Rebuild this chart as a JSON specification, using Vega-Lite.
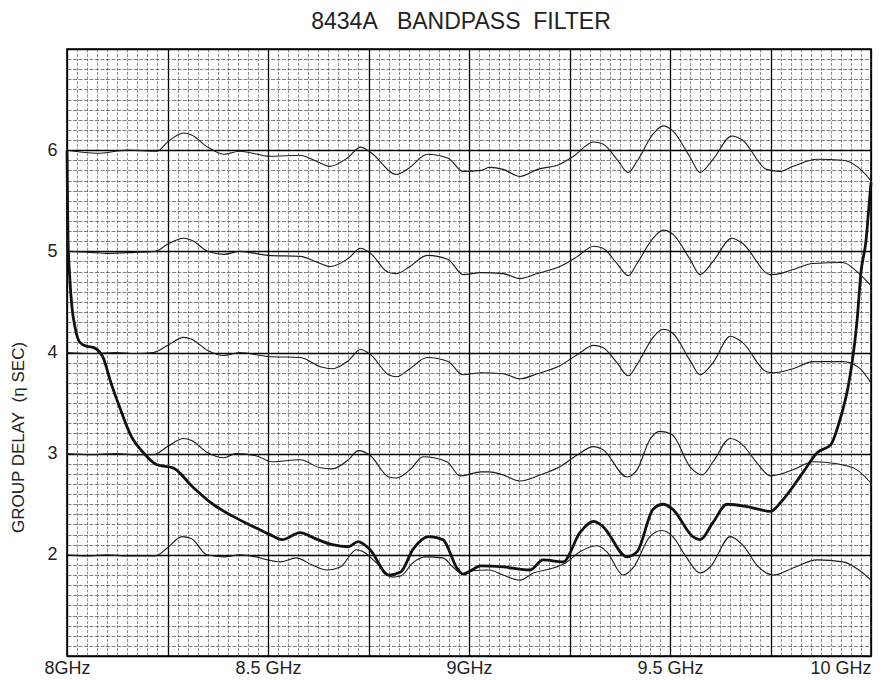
{
  "$schema": "https://vega.github.io/schema/vega-lite/v6.json",
  "width": 804,
  "height": 607,
  "autosize": {"type": "none"},
  "padding": {"left": 67, "top": 49, "right": 18, "bottom": 24},
  "background": "white",
  "config": {"view": {"stroke": "#000", "strokeWidth": 1.6}, "font": "Liberation Sans"},
  "title": {"text": "8434A\u00a0\u00a0\u00a0BANDPASS\u00a0\u00a0FILTER", "fontSize": 23, "fontWeight": "normal", "font": "Liberation Sans", "color": "#222", "offset": 18, "baseline": "bottom", "frame": "group", "anchor": "middle", "dx": -8, "dy": 35},
  "data": {"values": [
    {"s":"t2","f":8.0,"d":2.0},{"s":"t2","f":8.05,"d":1.99},{"s":"t2","f":8.1,"d":2.0},{"s":"t2","f":8.15,"d":1.99},{"s":"t2","f":8.22,"d":1.99},{"s":"t2","f":8.25,"d":2.07},{"s":"t2","f":8.286,"d":2.18},{"s":"t2","f":8.31,"d":2.16},{"s":"t2","f":8.348,"d":2.0},{"s":"t2","f":8.39,"d":1.98},{"s":"t2","f":8.43,"d":2.0},{"s":"t2","f":8.47,"d":1.98},{"s":"t2","f":8.5,"d":1.95},{"s":"t2","f":8.53,"d":1.93},{"s":"t2","f":8.57,"d":1.97},{"s":"t2","f":8.61,"d":1.9},{"s":"t2","f":8.647,"d":1.85},{"s":"t2","f":8.68,"d":1.88},{"s":"t2","f":8.72,"d":2.05},{"s":"t2","f":8.737,"d":2.03},{"s":"t2","f":8.77,"d":1.92},{"s":"t2","f":8.81,"d":1.78},{"s":"t2","f":8.83,"d":1.79},{"s":"t2","f":8.86,"d":1.92},{"s":"t2","f":8.89,"d":1.98},{"s":"t2","f":8.935,"d":1.97},{"s":"t2","f":8.96,"d":1.88},{"s":"t2","f":8.985,"d":1.81},{"s":"t2","f":9.0,"d":1.84},{"s":"t2","f":9.05,"d":1.85},{"s":"t2","f":9.085,"d":1.8},{"s":"t2","f":9.127,"d":1.75},{"s":"t2","f":9.16,"d":1.82},{"s":"t2","f":9.21,"d":1.87},{"s":"t2","f":9.24,"d":1.92},{"s":"t2","f":9.276,"d":2.03},{"s":"t2","f":9.318,"d":2.09},{"s":"t2","f":9.343,"d":2.03},{"s":"t2","f":9.383,"d":1.8},{"s":"t2","f":9.408,"d":1.87},{"s":"t2","f":9.45,"d":2.18},{"s":"t2","f":9.48,"d":2.24},{"s":"t2","f":9.507,"d":2.18},{"s":"t2","f":9.54,"d":1.98},{"s":"t2","f":9.575,"d":1.82},{"s":"t2","f":9.6,"d":1.88},{"s":"t2","f":9.65,"d":2.18},{"s":"t2","f":9.68,"d":2.1},{"s":"t2","f":9.72,"d":1.88},{"s":"t2","f":9.757,"d":1.8},{"s":"t2","f":9.806,"d":1.87},{"s":"t2","f":9.866,"d":1.95},{"s":"t2","f":9.93,"d":1.93},{"s":"t2","f":9.97,"d":1.85},{"s":"t2","f":10.0,"d":1.75},

    {"s":"t3","f":8.0,"d":3.0},{"s":"t3","f":8.06,"d":2.99},{"s":"t3","f":8.12,"d":3.0},{"s":"t3","f":8.17,"d":2.99},{"s":"t3","f":8.215,"d":2.99},{"s":"t3","f":8.25,"d":3.07},{"s":"t3","f":8.29,"d":3.15},{"s":"t3","f":8.31,"d":3.13},{"s":"t3","f":8.35,"d":3.01},{"s":"t3","f":8.39,"d":2.96},{"s":"t3","f":8.42,"d":3.0},{"s":"t3","f":8.47,"d":2.98},{"s":"t3","f":8.51,"d":2.92},{"s":"t3","f":8.58,"d":2.94},{"s":"t3","f":8.63,"d":2.86},{"s":"t3","f":8.66,"d":2.85},{"s":"t3","f":8.7,"d":2.94},{"s":"t3","f":8.725,"d":3.03},{"s":"t3","f":8.755,"d":2.98},{"s":"t3","f":8.8,"d":2.77},{"s":"t3","f":8.82,"d":2.76},{"s":"t3","f":8.853,"d":2.84},{"s":"t3","f":8.886,"d":2.97},{"s":"t3","f":8.945,"d":2.92},{"s":"t3","f":8.978,"d":2.78},{"s":"t3","f":9.03,"d":2.82},{"s":"t3","f":9.05,"d":2.82},{"s":"t3","f":9.085,"d":2.79},{"s":"t3","f":9.127,"d":2.73},{"s":"t3","f":9.177,"d":2.79},{"s":"t3","f":9.226,"d":2.87},{"s":"t3","f":9.27,"d":2.99},{"s":"t3","f":9.31,"d":3.07},{"s":"t3","f":9.333,"d":3.04},{"s":"t3","f":9.393,"d":2.77},{"s":"t3","f":9.418,"d":2.84},{"s":"t3","f":9.45,"d":3.14},{"s":"t3","f":9.475,"d":3.22},{"s":"t3","f":9.505,"d":3.19},{"s":"t3","f":9.55,"d":2.87},{"s":"t3","f":9.58,"d":2.79},{"s":"t3","f":9.607,"d":2.92},{"s":"t3","f":9.65,"d":3.15},{"s":"t3","f":9.68,"d":3.09},{"s":"t3","f":9.716,"d":2.91},{"s":"t3","f":9.75,"d":2.78},{"s":"t3","f":9.806,"d":2.84},{"s":"t3","f":9.856,"d":2.92},{"s":"t3","f":9.915,"d":2.9},{"s":"t3","f":9.965,"d":2.84},{"s":"t3","f":10.0,"d":2.71},

    {"s":"t4","f":8.0,"d":4.0},{"s":"t4","f":8.06,"d":3.99},{"s":"t4","f":8.12,"d":4.0},{"s":"t4","f":8.17,"d":3.99},{"s":"t4","f":8.215,"d":4.0},{"s":"t4","f":8.25,"d":4.07},{"s":"t4","f":8.29,"d":4.15},{"s":"t4","f":8.31,"d":4.13},{"s":"t4","f":8.35,"d":4.02},{"s":"t4","f":8.39,"d":3.97},{"s":"t4","f":8.43,"d":4.0},{"s":"t4","f":8.5,"d":3.96},{"s":"t4","f":8.58,"d":3.95},{"s":"t4","f":8.63,"d":3.86},{"s":"t4","f":8.66,"d":3.84},{"s":"t4","f":8.7,"d":3.92},{"s":"t4","f":8.73,"d":4.03},{"s":"t4","f":8.755,"d":3.98},{"s":"t4","f":8.8,"d":3.78},{"s":"t4","f":8.82,"d":3.76},{"s":"t4","f":8.853,"d":3.84},{"s":"t4","f":8.896,"d":3.95},{"s":"t4","f":8.948,"d":3.91},{"s":"t4","f":8.985,"d":3.78},{"s":"t4","f":9.03,"d":3.8},{"s":"t4","f":9.085,"d":3.79},{"s":"t4","f":9.127,"d":3.74},{"s":"t4","f":9.17,"d":3.79},{"s":"t4","f":9.226,"d":3.87},{"s":"t4","f":9.27,"d":3.98},{"s":"t4","f":9.31,"d":4.07},{"s":"t4","f":9.333,"d":4.05},{"s":"t4","f":9.368,"d":3.9},{"s":"t4","f":9.396,"d":3.77},{"s":"t4","f":9.418,"d":3.88},{"s":"t4","f":9.458,"d":4.15},{"s":"t4","f":9.483,"d":4.23},{"s":"t4","f":9.507,"d":4.19},{"s":"t4","f":9.55,"d":3.92},{"s":"t4","f":9.575,"d":3.78},{"s":"t4","f":9.607,"d":3.9},{"s":"t4","f":9.65,"d":4.16},{"s":"t4","f":9.68,"d":4.1},{"s":"t4","f":9.74,"d":3.81},{"s":"t4","f":9.757,"d":3.8},{"s":"t4","f":9.806,"d":3.84},{"s":"t4","f":9.856,"d":3.91},{"s":"t4","f":9.93,"d":3.91},{"s":"t4","f":9.97,"d":3.85},{"s":"t4","f":10.0,"d":3.7},

    {"s":"t5","f":8.0,"d":5.0},{"s":"t5","f":8.06,"d":4.99},{"s":"t5","f":8.1,"d":4.98},{"s":"t5","f":8.17,"d":4.99},{"s":"t5","f":8.22,"d":5.0},{"s":"t5","f":8.25,"d":5.07},{"s":"t5","f":8.29,"d":5.13},{"s":"t5","f":8.31,"d":5.11},{"s":"t5","f":8.35,"d":5.0},{"s":"t5","f":8.39,"d":4.97},{"s":"t5","f":8.43,"d":5.0},{"s":"t5","f":8.5,"d":4.96},{"s":"t5","f":8.58,"d":4.95},{"s":"t5","f":8.63,"d":4.88},{"s":"t5","f":8.655,"d":4.85},{"s":"t5","f":8.7,"d":4.93},{"s":"t5","f":8.73,"d":5.03},{"s":"t5","f":8.755,"d":4.98},{"s":"t5","f":8.8,"d":4.79},{"s":"t5","f":8.82,"d":4.78},{"s":"t5","f":8.853,"d":4.85},{"s":"t5","f":8.896,"d":4.96},{"s":"t5","f":8.948,"d":4.92},{"s":"t5","f":8.985,"d":4.77},{"s":"t5","f":9.03,"d":4.79},{"s":"t5","f":9.085,"d":4.78},{"s":"t5","f":9.127,"d":4.73},{"s":"t5","f":9.17,"d":4.78},{"s":"t5","f":9.226,"d":4.85},{"s":"t5","f":9.27,"d":4.95},{"s":"t5","f":9.31,"d":5.05},{"s":"t5","f":9.333,"d":5.03},{"s":"t5","f":9.368,"d":4.88},{"s":"t5","f":9.396,"d":4.76},{"s":"t5","f":9.418,"d":4.88},{"s":"t5","f":9.458,"d":5.13},{"s":"t5","f":9.483,"d":5.21},{"s":"t5","f":9.507,"d":5.17},{"s":"t5","f":9.55,"d":4.92},{"s":"t5","f":9.575,"d":4.77},{"s":"t5","f":9.607,"d":4.9},{"s":"t5","f":9.654,"d":5.13},{"s":"t5","f":9.68,"d":5.08},{"s":"t5","f":9.75,"d":4.77},{"s":"t5","f":9.774,"d":4.78},{"s":"t5","f":9.806,"d":4.82},{"s":"t5","f":9.856,"d":4.88},{"s":"t5","f":9.93,"d":4.89},{"s":"t5","f":9.965,"d":4.8},{"s":"t5","f":10.0,"d":4.66},

    {"s":"t6","f":8.0,"d":6.0},{"s":"t6","f":8.075,"d":5.97},{"s":"t6","f":8.15,"d":6.0},{"s":"t6","f":8.224,"d":5.99},{"s":"t6","f":8.25,"d":6.08},{"s":"t6","f":8.29,"d":6.17},{"s":"t6","f":8.31,"d":6.15},{"s":"t6","f":8.35,"d":6.03},{"s":"t6","f":8.39,"d":5.96},{"s":"t6","f":8.43,"d":5.99},{"s":"t6","f":8.505,"d":5.94},{"s":"t6","f":8.58,"d":5.95},{"s":"t6","f":8.62,"d":5.89},{"s":"t6","f":8.654,"d":5.84},{"s":"t6","f":8.7,"d":5.93},{"s":"t6","f":8.73,"d":6.03},{"s":"t6","f":8.755,"d":5.98},{"s":"t6","f":8.82,"d":5.76},{"s":"t6","f":8.853,"d":5.83},{"s":"t6","f":8.896,"d":5.96},{"s":"t6","f":8.948,"d":5.92},{"s":"t6","f":8.985,"d":5.79},{"s":"t6","f":9.03,"d":5.8},{"s":"t6","f":9.05,"d":5.83},{"s":"t6","f":9.085,"d":5.81},{"s":"t6","f":9.127,"d":5.74},{"s":"t6","f":9.17,"d":5.81},{"s":"t6","f":9.226,"d":5.86},{"s":"t6","f":9.26,"d":5.94},{"s":"t6","f":9.31,"d":6.08},{"s":"t6","f":9.333,"d":6.06},{"s":"t6","f":9.368,"d":5.91},{"s":"t6","f":9.396,"d":5.78},{"s":"t6","f":9.418,"d":5.89},{"s":"t6","f":9.458,"d":6.16},{"s":"t6","f":9.483,"d":6.24},{"s":"t6","f":9.507,"d":6.19},{"s":"t6","f":9.55,"d":5.93},{"s":"t6","f":9.575,"d":5.78},{"s":"t6","f":9.607,"d":5.91},{"s":"t6","f":9.654,"d":6.14},{"s":"t6","f":9.68,"d":6.1},{"s":"t6","f":9.74,"d":5.81},{"s":"t6","f":9.774,"d":5.79},{"s":"t6","f":9.806,"d":5.84},{"s":"t6","f":9.866,"d":5.91},{"s":"t6","f":9.93,"d":5.9},{"s":"t6","f":9.965,"d":5.84},{"s":"t6","f":10.0,"d":5.7},

    {"s":"main","f":8.0,"d":6.0},{"s":"main","f":8.001,"d":5.6},{"s":"main","f":8.0025,"d":5.12},{"s":"main","f":8.006,"d":4.8},{"s":"main","f":8.012,"d":4.46},{"s":"main","f":8.02,"d":4.25},{"s":"main","f":8.032,"d":4.1},{"s":"main","f":8.05,"d":4.06},{"s":"main","f":8.065,"d":4.05},{"s":"main","f":8.08,"d":4.01},{"s":"main","f":8.09,"d":3.95},{"s":"main","f":8.107,"d":3.73},{"s":"main","f":8.13,"d":3.47},{"s":"main","f":8.16,"d":3.17},{"s":"main","f":8.19,"d":3.01},{"s":"main","f":8.224,"d":2.89},{"s":"main","f":8.264,"d":2.86},{"s":"main","f":8.313,"d":2.67},{"s":"main","f":8.363,"d":2.5},{"s":"main","f":8.413,"d":2.38},{"s":"main","f":8.463,"d":2.28},{"s":"main","f":8.505,"d":2.2},{"s":"main","f":8.535,"d":2.15},{"s":"main","f":8.58,"d":2.22},{"s":"main","f":8.612,"d":2.17},{"s":"main","f":8.66,"d":2.1},{"s":"main","f":8.7,"d":2.08},{"s":"main","f":8.724,"d":2.13},{"s":"main","f":8.754,"d":2.05},{"s":"main","f":8.8,"d":1.8},{"s":"main","f":8.83,"d":1.83},{"s":"main","f":8.86,"d":2.05},{"s":"main","f":8.9,"d":2.18},{"s":"main","f":8.935,"d":2.15},{"s":"main","f":8.97,"d":1.87},{"s":"main","f":8.985,"d":1.81},{"s":"main","f":9.03,"d":1.89},{"s":"main","f":9.085,"d":1.88},{"s":"main","f":9.152,"d":1.85},{"s":"main","f":9.184,"d":1.95},{"s":"main","f":9.234,"d":1.93},{"s":"main","f":9.276,"d":2.22},{"s":"main","f":9.31,"d":2.33},{"s":"main","f":9.333,"d":2.28},{"s":"main","f":9.393,"d":1.98},{"s":"main","f":9.418,"d":2.03},{"s":"main","f":9.458,"d":2.45},{"s":"main","f":9.483,"d":2.5},{"s":"main","f":9.507,"d":2.45},{"s":"main","f":9.557,"d":2.18},{"s":"main","f":9.575,"d":2.15},{"s":"main","f":9.607,"d":2.32},{"s":"main","f":9.642,"d":2.5},{"s":"main","f":9.7,"d":2.47},{"s":"main","f":9.75,"d":2.43},{"s":"main","f":9.78,"d":2.54},{"s":"main","f":9.83,"d":2.81},{"s":"main","f":9.866,"d":3.01},{"s":"main","f":9.9,"d":3.09},{"s":"main","f":9.923,"d":3.34},{"s":"main","f":9.943,"d":3.66},{"s":"main","f":9.953,"d":3.9},{"s":"main","f":9.965,"d":4.3},{"s":"main","f":9.975,"d":4.79},{"s":"main","f":9.988,"d":5.12},{"s":"main","f":9.995,"d":5.45},{"s":"main","f":10.0,"d":5.68}
  ]},
  "encoding": {
    "x": {
      "field": "f", "type": "quantitative",
      "scale": {"domain": [8, 10], "nice": false, "zero": false},
      "axis": {
        "title": null,
        "values": [8,8.025,8.05,8.075,8.1,8.125,8.15,8.175,8.2,8.225,8.25,8.275,8.3,8.325,8.35,8.375,8.4,8.425,8.45,8.475,8.5,8.525,8.55,8.575,8.6,8.625,8.65,8.675,8.7,8.725,8.75,8.775,8.8,8.825,8.85,8.875,8.9,8.925,8.95,8.975,9,9.025,9.05,9.075,9.1,9.125,9.15,9.175,9.2,9.225,9.25,9.275,9.3,9.325,9.35,9.375,9.4,9.425,9.45,9.475,9.5,9.525,9.55,9.575,9.6,9.625,9.65,9.675,9.7,9.725,9.75,9.775,9.8,9.825,9.85,9.875,9.9,9.925,9.95,9.975,10],
        "grid": true, "ticks": false, "domain": false,
        "labelOverlap": false, "labelBound": false, "labelFlush": false,
        "gridColor": {"condition": {"test": "abs(datum.value*4 - round(datum.value*4)) < 0.01", "value": "#000000"}, "value": "#606060"},
        "gridWidth": {"condition": {"test": "abs(datum.value*4 - round(datum.value*4)) < 0.01", "value": 1.3}, "value": 0.7},
        "gridDash": {"condition": {"test": "abs(datum.value*4 - round(datum.value*4)) < 0.01", "value": [10, 0]}, "value": [3, 1.5]},
        "labelExpr": "datum.value < 8.01 ? '8GHz' : abs(datum.value - 8.5) < 0.01 ? '8.5 GHz' : abs(datum.value - 9) < 0.01 ? '9GHz' : abs(datum.value - 9.5) < 0.01 ? '9.5 GHz' : datum.value > 9.99 ? '10 GHz' : ''",
        "labelAlign": {"condition": {"test": "datum.value > 9.99", "value": "right"}, "value": "center"},
        "labelFontSize": 18, "labelColor": "#222", "labelPadding": 3, "labelFont": "Liberation Sans"
      }
    },
    "y": {
      "field": "d", "type": "quantitative",
      "scale": {"domain": [1, 7], "nice": false, "zero": false},
      "axis": {
        "values": [1,1.1,1.2,1.3,1.4,1.5,1.6,1.7,1.8,1.9,2,2.1,2.2,2.3,2.4,2.5,2.6,2.7,2.8,2.9,3,3.1,3.2,3.3,3.4,3.5,3.6,3.7,3.8,3.9,4,4.1,4.2,4.3,4.4,4.5,4.6,4.7,4.8,4.9,5,5.1,5.2,5.3,5.4,5.5,5.6,5.7,5.8,5.9,6,6.1,6.2,6.3,6.4,6.5,6.6,6.7,6.8,6.9,7],
        "grid": true, "ticks": false, "domain": false,
        "labelOverlap": false, "labelBound": false, "labelFlush": false,
        "gridColor": {"condition": {"test": "abs(datum.value - round(datum.value)) < 0.01", "value": "#000000"}, "value": "#4a4a4a"},
        "gridWidth": {"condition": {"test": "abs(datum.value - round(datum.value)) < 0.01", "value": 1.3}, "value": 0.7},
        "gridDash": {"condition": {"test": "abs(datum.value - round(datum.value)) < 0.01", "value": [10, 0]}, "value": [4, 1.5]},
        "labelExpr": "(abs(datum.value - round(datum.value)) < 0.01 && datum.value > 1.5 && datum.value < 6.5) ? toString(round(datum.value)) : ''",
        "labelFontSize": 18, "labelColor": "#222", "labelPadding": 10, "labelFont": "Liberation Sans", "labelBaseline": "middle",
        "title": "GROUP DELAY\u00a0 (\u03b7 SEC)",
        "titleFont": "Liberation Sans", "titleFontSize": 17, "titleFontWeight": "normal", "titleColor": "#222",
        "titleAngle": 270, "titleX": -49, "titleY": 388, "titleAlign": "center", "titleBaseline": "middle"
      }
    }
  },
  "layer": [
    {
      "transform": [{"filter": "datum.s != 'main'"}],
      "mark": {"type": "line", "color": "#1a1a1a", "strokeWidth": 1.1, "interpolate": "monotone"},
      "encoding": {"detail": {"field": "s"}, "order": {"field": "f"}}
    },
    {
      "transform": [{"filter": "datum.s == 'main'"}],
      "mark": {"type": "line", "color": "#111111", "strokeWidth": 2.8, "interpolate": "monotone"},
      "encoding": {"order": {"field": "f"}}
    }
  ]
}
